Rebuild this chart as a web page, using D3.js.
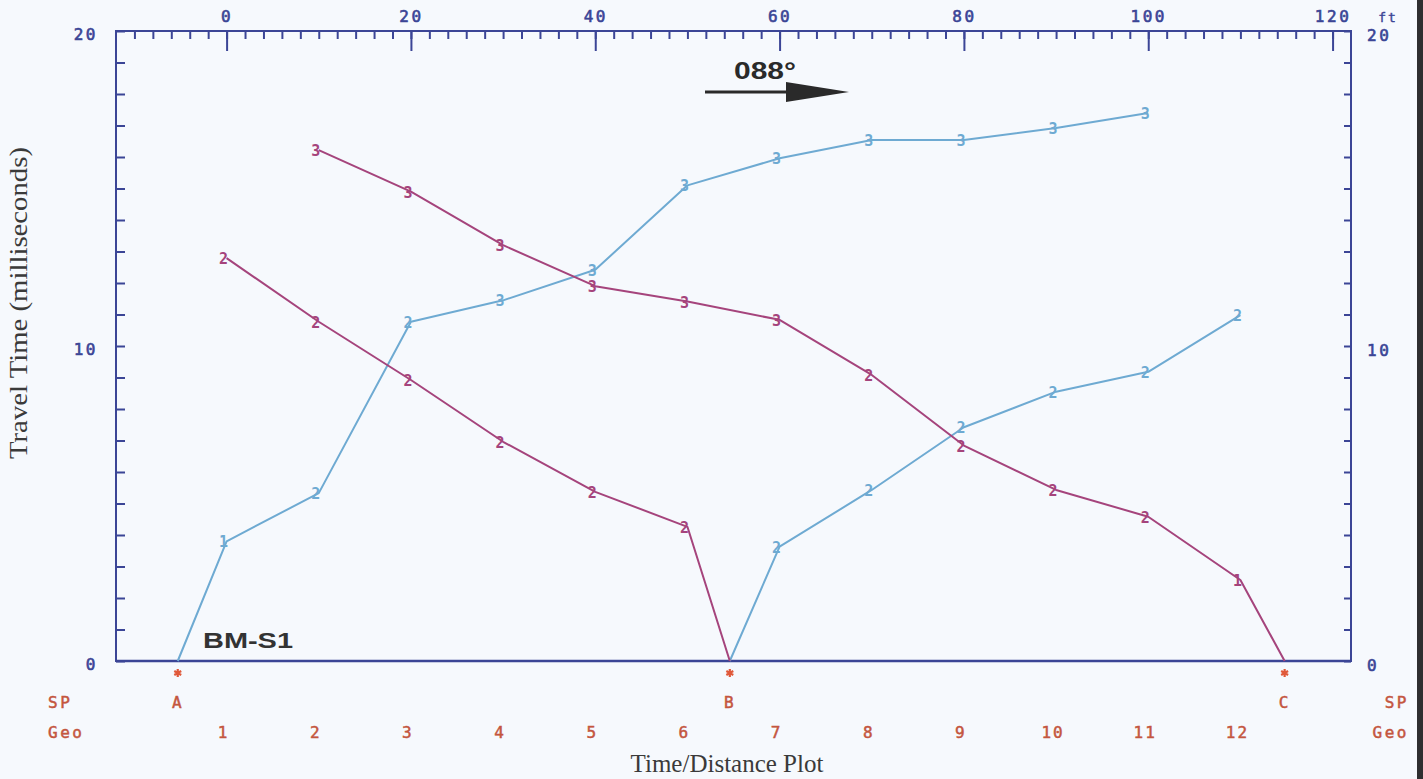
<!DOCTYPE html>
<html>
<head>
<meta charset="utf-8">
<script src="https://cdn.jsdelivr.net/npm/d3@7"></script>
<style>
  html, body { margin: 0; padding: 0; background: #f6f9fd; }
  svg { display: block; }
</style>
</head>
<body>
<svg id="chart" width="1423" height="779"></svg>
<script>
// ---------- data ----------
const ftTicks = [0, 20, 40, 60, 80, 100, 120];
const msTicks = [0, 10, 20];
const geoLabels = ["1","2","3","4","5","6","7","8","9","10","11","12"];
const geoFt = [0, 10, 20, 30, 40, 50, 60, 70, 80, 90, 100, 110];
const spLabels = ["A", "B", "C"];
const spFt = [-5.3, 54.6, 114.8];

// forward shot from A (blue)
const shotA_ft = [-5.3, 0, 10, 20, 30, 40, 50, 60, 70, 80, 90, 100];
const shotA_ms = [0, 3.8, 5.33, 10.77, 11.45, 12.42, 15.1, 15.96, 16.54, 16.54, 16.92, 17.4];
const shotA_lbl = ["", "1", "2", "2", "3", "3", "3", "3", "3", "3", "3", "3"];

// reverse shot from B (purple)
const shotBr_ft = [54.6, 50, 40, 30, 20, 10, 0];
const shotBr_ms = [0, 4.26, 5.37, 6.96, 8.92, 10.77, 12.79];
const shotBr_lbl = ["", "2", "2", "2", "2", "2", "2"];

// forward shot from B (blue)
const shotBf_ft = [54.6, 60, 70, 80, 90, 100, 110];
const shotBf_ms = [0, 3.63, 5.43, 7.42, 8.55, 9.18, 10.98];
const shotBf_lbl = ["", "2", "2", "2", "2", "2", "2"];

// reverse shot from C (purple)
const shotC_ft = [114.8, 110, 100, 90, 80, 70, 60, 50, 40, 30, 20, 10];
const shotC_ms = [0, 2.57, 4.58, 5.43, 6.84, 9.08, 10.83, 11.41, 11.9, 13.2, 14.9, 16.22];
const shotC_lbl = ["", "1", "2", "2", "2", "2", "3", "3", "3", "3", "3", "3"];

// ---------- layout ----------
const svg = d3.select("#chart");
const L = 116, R = 1351, T = 31, B = 661;
const axisColor = "#3b4596";
const blue = "#6eaad2";
const purple = "#a5447c";
const red = "#c4563f";
const mono = "'DejaVu Sans Mono', monospace";

svg.append("rect").attr("width", 1423).attr("height", 779).attr("fill", "#f6f9fd");
svg.append("rect").attr("x", 1417).attr("y", 0).attr("width", 6).attr("height", 779).attr("fill", "#2e2e30");

const x = d3.scaleLinear().domain([-12, 122]).range([L, R]);
const y = d3.scaleLinear().domain([0, 20]).range([B, T]);

function styleAxis(g) {
  g.select(".domain").remove();
  g.selectAll(".tick line").attr("stroke", axisColor).attr("stroke-width", 2);
  g.selectAll(".tick text").attr("fill", axisColor).attr("font-family", mono)
    .attr("font-size", 16).attr("letter-spacing", "2.5px")
    .attr("stroke", axisColor).attr("stroke-width", 0.6);
}

// top axis minor ticks
svg.append("g").attr("transform", `translate(0,${T})`)
  .call(d3.axisTop(x).tickValues(d3.range(-10, 121, 2)).tickSize(-8).tickFormat(""))
  .call(styleAxis);
// top axis major ticks + labels
svg.append("g").attr("transform", `translate(0,${T})`)
  .call(d3.axisTop(x).tickValues(ftTicks).tickSize(-20).tickPadding(9).tickFormat(d3.format("d")))
  .call(styleAxis);

// left axis
svg.append("g").attr("transform", `translate(${L},0)`)
  .call(d3.axisLeft(y).tickValues(d3.range(0, 21, 1)).tickSize(-9).tickFormat(""))
  .call(styleAxis);
svg.append("g").attr("transform", `translate(${L},0)`)
  .call(d3.axisLeft(y).tickValues(msTicks).tickSize(0).tickPadding(18).tickFormat(d3.format("d")))
  .call(styleAxis)
  .call(g => g.selectAll(".tick text").attr("dy", "0.55em"));

// right axis
svg.append("g").attr("transform", `translate(${R},0)`)
  .call(d3.axisRight(y).tickValues(d3.range(0, 21, 1)).tickSize(-7).tickFormat(""))
  .call(styleAxis);
svg.append("g").attr("transform", `translate(${R},0)`)
  .call(d3.axisRight(y).tickValues(msTicks).tickSize(0).tickPadding(16).tickFormat(d3.format("d")))
  .call(styleAxis)
  .call(g => g.selectAll(".tick text").attr("dy", "0.62em"));

// frame
svg.append("rect").attr("x", L).attr("y", T).attr("width", R - L).attr("height", B - T)
  .attr("fill", "none").attr("stroke", axisColor).attr("stroke-width", 2);
svg.append("line").attr("x1", L).attr("x2", R).attr("y1", B).attr("y2", B)
  .attr("stroke", axisColor).attr("stroke-width", 2.5);

// ft unit
svg.append("text").attr("x", 1388).attr("y", 22).attr("text-anchor", "middle")
  .attr("font-family", mono).attr("font-size", 13).attr("letter-spacing", "2px")
  .attr("fill", axisColor).attr("stroke", axisColor).attr("stroke-width", 0.4).text("ft");

// ---------- series ----------
const line = d3.line().x(d => x(d[0])).y(d => y(d[1]));
function drawShot(ft, ms, lbl, color) {
  const pts = ft.map((f, i) => [f, ms[i], lbl[i]]);
  svg.append("path").datum(pts).attr("d", line)
    .attr("fill", "none").attr("stroke", color).attr("stroke-width", 2)
    .attr("stroke-linejoin", "round");
  svg.append("g").selectAll("text").data(pts.filter(p => p[2] !== "")).join("text")
    .attr("x", d => x(d[0]) - 3).attr("y", d => y(d[1]) + 6)
    .attr("text-anchor", "middle")
    .attr("font-family", mono).attr("font-size", 15).attr("font-weight", "bold")
    .attr("fill", color).text(d => d[2]);
}
drawShot(shotA_ft, shotA_ms, shotA_lbl, blue);
drawShot(shotBf_ft, shotBf_ms, shotBf_lbl, blue);
drawShot(shotBr_ft, shotBr_ms, shotBr_lbl, purple);
drawShot(shotC_ft, shotC_ms, shotC_lbl, purple);

// ---------- shot points and geophones ----------
const star = d3.symbol().type(d3.symbolAsterisk || d3.symbolCross).size(45);
svg.append("g").selectAll("path").data(spFt).join("path")
  .attr("transform", d => `translate(${x(d)},673)`)
  .attr("d", star).attr("fill", "#e0593a").attr("stroke", "#e0593a").attr("stroke-width", 2.2);
svg.append("g").selectAll("text").data(spFt).join("text")
  .attr("x", d => x(d)).attr("y", 708).attr("text-anchor", "middle")
  .attr("font-family", mono).attr("font-size", 16).attr("letter-spacing", "2px")
  .attr("fill", red).attr("stroke", red).attr("stroke-width", 0.5)
  .text((d, i) => spLabels[i]);
svg.append("g").selectAll("text").data(geoFt).join("text")
  .attr("x", d => x(d) - 3).attr("y", 738).attr("text-anchor", "middle")
  .attr("font-family", mono).attr("font-size", 16).attr("letter-spacing", "2px")
  .attr("fill", red).attr("stroke", red).attr("stroke-width", 0.5)
  .text((d, i) => geoLabels[i]);

const rowLbl = [["SP", 708], ["Geo", 738]];
rowLbl.forEach(([t, yy]) => {
  svg.append("text").attr("x", 48).attr("y", yy).attr("font-family", mono)
    .attr("font-size", 16).attr("letter-spacing", "2.5px").attr("fill", red)
    .attr("stroke", red).attr("stroke-width", 0.5).text(t);
  svg.append("text").attr("x", 1409).attr("y", yy).attr("text-anchor", "end").attr("font-family", mono)
    .attr("font-size", 16).attr("letter-spacing", "2.5px").attr("fill", red)
    .attr("stroke", red).attr("stroke-width", 0.5).text(t);
});

// ---------- titles ----------
svg.append("text").attr("transform", "translate(27,303) rotate(-90)")
  .attr("text-anchor", "middle").attr("font-family", "'Liberation Serif', serif")
  .attr("font-size", 25).attr("fill", "#3a3a3a")
  .attr("textLength", 312).attr("lengthAdjust", "spacingAndGlyphs")
  .text("Travel Time (milliseconds)");
svg.append("text").attr("x", 727).attr("y", 772)
  .attr("text-anchor", "middle").attr("font-family", "'Liberation Serif', serif")
  .attr("font-size", 25).attr("fill", "#3a3a3a").text("Time/Distance Plot");

svg.append("text").attr("x", 203).attr("y", 648)
  .attr("font-family", "'Liberation Sans', Arial, sans-serif").attr("font-weight", "bold")
  .attr("font-size", 22).attr("fill", "#333")
  .attr("textLength", 90).attr("lengthAdjust", "spacingAndGlyphs").text("BM-S1");

// bearing arrow
svg.append("text").attr("x", 734).attr("y", 79)
  .attr("font-family", "'Liberation Sans', Arial, sans-serif").attr("font-weight", "bold")
  .attr("font-size", 24).attr("fill", "#2a2a2a")
  .attr("textLength", 62).attr("lengthAdjust", "spacingAndGlyphs").text("088°");
svg.append("line").attr("x1", 705).attr("x2", 790).attr("y1", 92).attr("y2", 92)
  .attr("stroke", "#2a2a2a").attr("stroke-width", 3);
svg.append("path").attr("d", "M786,82 L849,92 L786,102 Z").attr("fill", "#2a2a2a");
</script>
</body>
</html>
